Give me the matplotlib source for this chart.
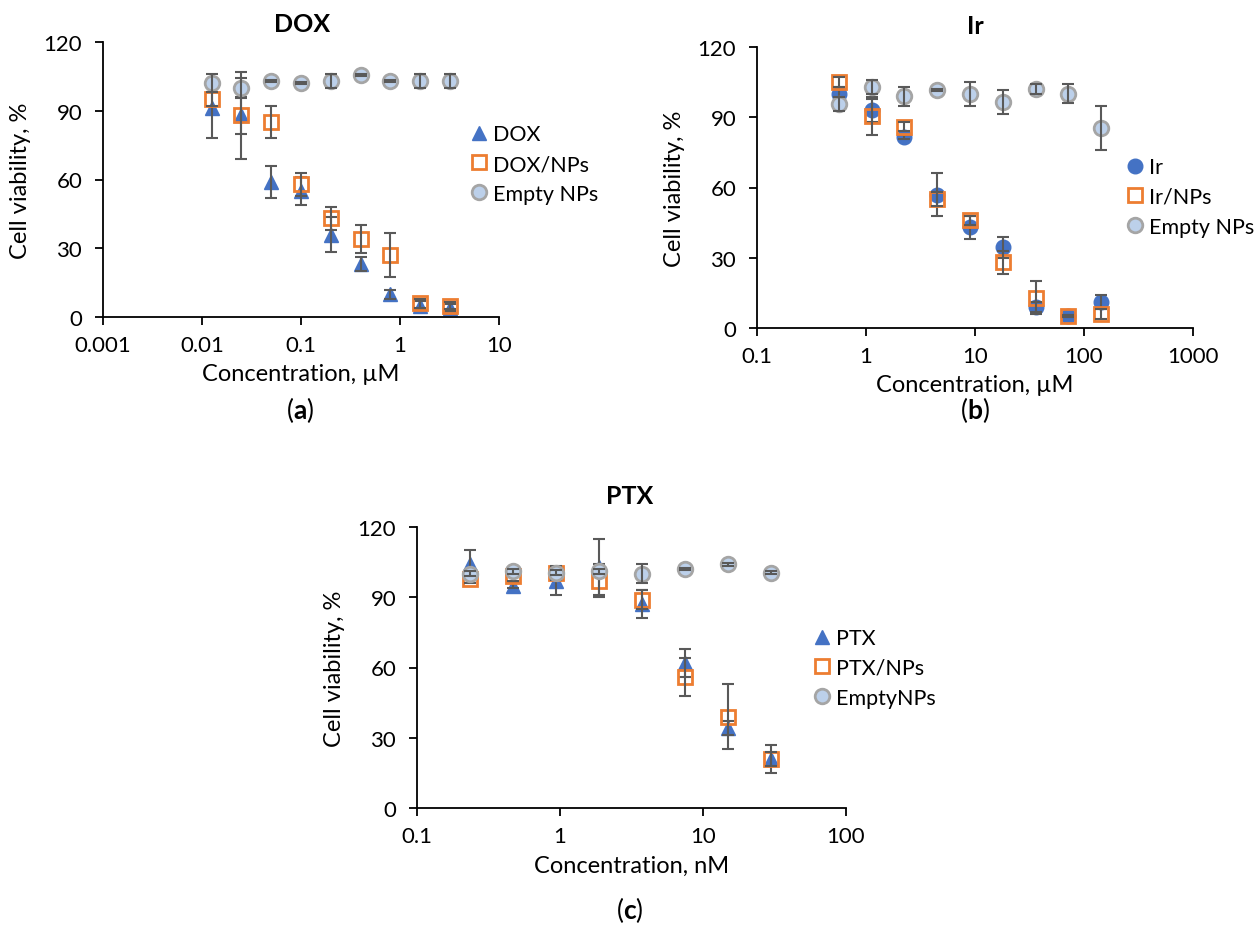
import matplotlib
matplotlib.use("Agg")
import matplotlib.pyplot as plt
from matplotlib.ticker import FixedLocator, FixedFormatter, NullLocator

plt.rcParams['font.family'] = ['Lato', 'DejaVu Sans']
plt.rcParams['mathtext.fontset'] = 'custom'
plt.rcParams['mathtext.rm'] = 'Lato'
plt.rcParams['mathtext.bf'] = 'Lato:bold'

# (a) DOX
dox_conc = [0.0125, 0.025, 0.05, 0.1, 0.2, 0.4, 0.8, 1.6, 3.2]
dox = [91, 88, 59, 55, 36, 23, 10, 5, 4]
dox_err = [13, 19, 7, 6, 7.5, 3, 2, 2, 1.5]
dox_np = [95, 88, 85, 58, 43, 34, 27, 6, 5]
dox_np_err = [3, 8, 7, 5, 5, 6, 9.5, 2, 1.5]
dox_empty = [102, 100, 103, 102, 103, 105.5, 103, 103, 103]
dox_empty_err = [4, 4.5, 0.5, 0.5, 3, 0.5, 0.5, 3, 3]

# (b) Ir
ir_conc = [0.5625, 1.125, 2.25, 4.5, 9, 18, 36, 72, 144]
ir = [100, 93, 81.5, 57, 43, 34.5, 9, 5, 11]
ir_err = [3, 5, 1, 9, 5, 4.5, 2, 0.5, 3]
ir_np = [105, 90.5, 86, 55, 46, 28, 13, 5, 6]
ir_np_err = [2, 8, 2, 3, 2, 5, 7, 0.5, 2]
ir_empty = [95.5, 103, 99, 101.5, 100, 96.5, 102, 100, 85.5]
ir_empty_err = [3, 3, 4, 0.5, 5, 5, 2, 4, 9.5]

# (c) PTX
ptx_conc = [0.234, 0.469, 0.9375, 1.875, 3.75, 7.5, 15, 30]
ptx = [104, 95, 97, 103, 87, 62, 34, 21]
ptx_err = [6, 1, 6, 12, 6, 6, 3, 6]
ptx_np = [98, 99, 100.5, 97, 89, 56, 39, 21]
ptx_np_err = [2, 2, 3, 7, 4, 8, 14, 3]
ptx_empty = [100, 101, 100.5, 101, 100, 102, 104, 100.5]
ptx_empty_err = [1, 1, 1, 1, 4, 0.5, 0.5, 0.5]

BLUE = '#4472c4'
ORANGE = '#ed7d31'
ERR = '#595959'
W, H = 1256, 937

fig = plt.figure(figsize=(W / 100, H / 100), dpi=100)


def px_axes(l, t, r, b):
    return fig.add_axes([l / W, 1 - b / H, (r - l) / W, (b - t) / H])


def draw_panel(ax, conc, first, first_err, first_marker, np_vals, np_err,
               empty, empty_err, labels, xlim, xticks, xlabel):
    ax.plot(conc, first, linestyle='none', marker=first_marker, ms=10.5,
            color=BLUE, mec=BLUE, label=labels[0], zorder=2)
    ax.errorbar(conc, first, yerr=first_err, fmt='none', ecolor=ERR,
                elinewidth=1.5, capsize=4, capthick=1.5, zorder=3)
    ax.plot(conc, np_vals, linestyle='none', marker='s', ms=10.5,
            mfc='none', mec=ORANGE, mew=2, label=labels[1], zorder=4)
    ax.errorbar(conc, np_vals, yerr=np_err, fmt='none', ecolor=ERR,
                elinewidth=1.5, capsize=4, capthick=1.5, zorder=5)
    ax.plot(conc, empty, linestyle='none', marker='o', ms=10.5,
            mfc='#bcd0ea', mec='#a5a5a5', mew=2, label=labels[2], zorder=6)
    ax.errorbar(conc, empty, yerr=empty_err, fmt='none', ecolor=ERR,
                elinewidth=1.5, capsize=4, capthick=1.5, zorder=7)

    ax.set_xscale('log')
    ax.set_xlim(*xlim)
    ax.set_ylim(0, 120)
    ax.xaxis.set_major_locator(FixedLocator(xticks))
    ax.xaxis.set_major_formatter(FixedFormatter(['%g' % t for t in xticks]))
    ax.xaxis.set_minor_locator(NullLocator())
    ax.set_yticks([0, 30, 60, 90, 120])
    for s in ['top', 'right']:
        ax.spines[s].set_visible(False)
    for s in ['left', 'bottom']:
        ax.spines[s].set_linewidth(1.3)
    ax.tick_params(direction='out', length=6, width=1.3, labelsize=16)
    ax.tick_params(axis='y', pad=9)
    ax.tick_params(axis='x', pad=7)
    ax.set_xlabel(xlabel, fontsize=17, labelpad=6)
    ax.set_ylabel('Cell viability, %', fontsize=17, labelpad=9)


ax_a = px_axes(103, 43, 499, 318)
draw_panel(ax_a, dox_conc, dox, dox_err, '^', dox_np, dox_np_err,
           dox_empty, dox_empty_err, ['DOX', 'DOX/NPs', 'Empty NPs'],
           (0.001, 10), [0.001, 0.01, 0.1, 1, 10], 'Concentration, µM')

ax_b = px_axes(757, 48, 1193, 329)
draw_panel(ax_b, ir_conc, ir, ir_err, 'o', ir_np, ir_np_err,
           ir_empty, ir_empty_err, ['Ir', 'Ir/NPs', 'Empty NPs'],
           (0.1, 1000), [0.1, 1, 10, 100, 1000], 'Concentration, µM')

ax_c = px_axes(417, 528, 846, 809)
draw_panel(ax_c, ptx_conc, ptx, ptx_err, '^', ptx_np, ptx_np_err,
           ptx_empty, ptx_empty_err, ['PTX', 'PTX/NPs', 'EmptyNPs'],
           (0.1, 100), [0.1, 1, 10, 100], 'Concentration, nM')

for ax, lx, ly in [(ax_a, 470, 165), (ax_b, 1126, 198), (ax_c, 813, 669)]:
    ax.legend(loc='center left', bbox_to_anchor=(lx / W, 1 - ly / H),
              bbox_transform=fig.transFigure, frameon=False, fontsize=15.5,
              handlelength=0.8, handletextpad=0.25, borderpad=0,
              borderaxespad=0, labelspacing=0.45)

for txt, x, y in [('DOX', 302, 25), ('Ir', 975, 27), ('PTX', 630, 497)]:
    fig.text(x / W, 1 - y / H, txt, ha='center', va='center',
             fontsize=18, fontweight='bold')

for lab, x, y in [('a', 300, 410), ('b', 975, 410), ('c', 630, 910)]:
    fig.text(x / W, 1 - y / H, '(' + r'$\mathbf{' + lab + '}$' + ')',
             ha='center', va='center', fontsize=19)

fig.savefig('out.png', dpi=100)
